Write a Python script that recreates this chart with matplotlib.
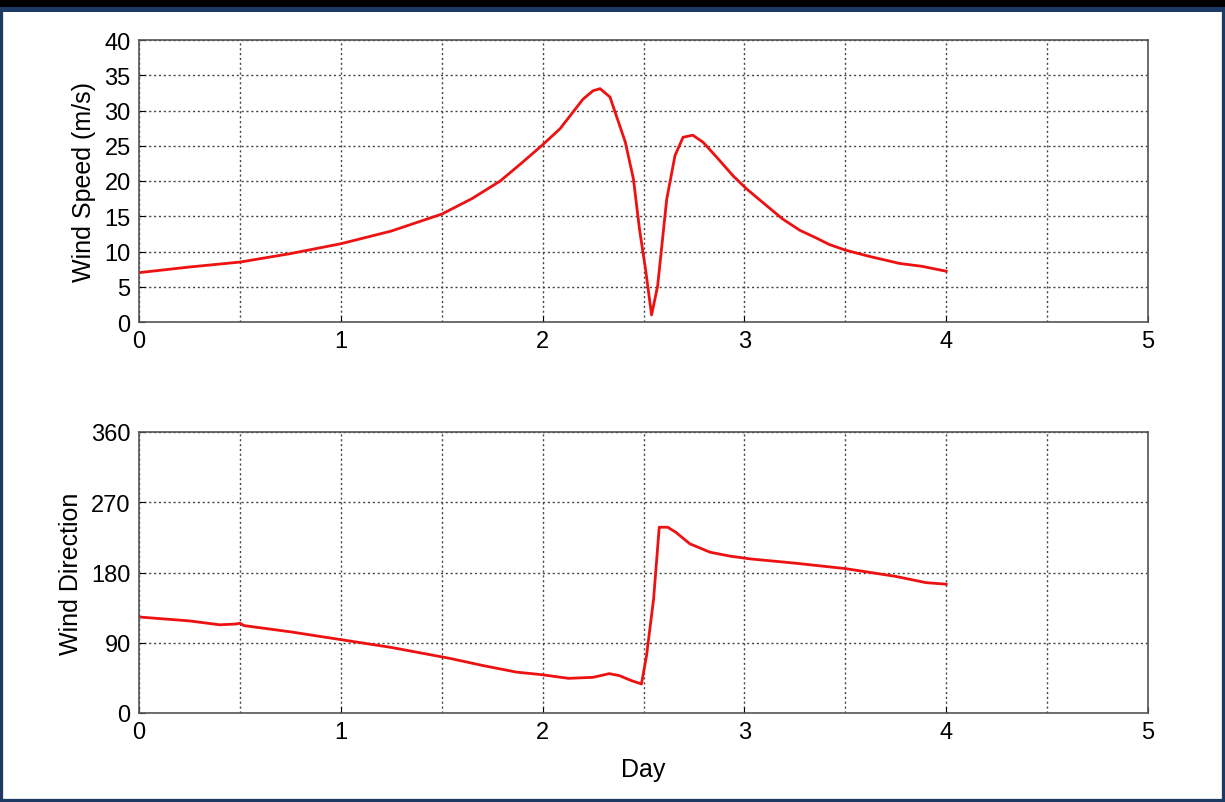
import matplotlib.pyplot as plt
from matplotlib.patches import Rectangle

plt.rcParams['font.family'] = ['Liberation Sans', 'DejaVu Sans']

# wind speed track (day, m/s)
speed_day = [0.0, 0.25, 0.5, 0.75, 1.0, 1.25, 1.5, 1.65, 1.79, 1.89, 1.995, 2.086,
             2.2, 2.25, 2.285, 2.334, 2.41, 2.45, 2.48, 2.51, 2.54, 2.57, 2.615,
             2.656, 2.696, 2.744, 2.795, 2.862, 2.945, 3.01, 3.11, 3.19, 3.275,
             3.35, 3.42, 3.5, 3.62, 3.77, 3.88, 4.0]
speed = [7.0, 7.8, 8.5, 9.7, 11.1, 12.9, 15.3, 17.5, 20.0, 22.4, 25.0, 27.4,
         31.6, 32.8, 33.1, 31.9, 25.5, 20.3, 13.2, 7.5, 1.0, 5.1, 17.4,
         23.6, 26.2, 26.5, 25.5, 23.4, 20.7, 18.9, 16.5, 14.6, 13.0,
         12.0, 11.0, 10.2, 9.3, 8.3, 7.9, 7.2]

# wind direction track (day, degrees)
dir_day = [0.0, 0.25, 0.4, 0.48, 0.5, 0.52, 0.75, 1.0, 1.25, 1.54, 1.706, 1.87,
           1.995, 2.128, 2.25, 2.33, 2.38, 2.44, 2.49, 2.515, 2.55, 2.578, 2.62,
           2.66, 2.73, 2.83, 2.93, 3.03, 3.25, 3.5, 3.75, 3.9, 4.0]
direction = [123, 118, 113, 114, 115, 112, 104, 94, 84, 70, 60.7, 52.4,
             49.1, 44.4, 45.7, 50.4, 47.9, 41.5, 37.2, 73.5, 146, 238, 238,
             231.6, 216.7, 206, 200.9, 197.4, 192, 185, 175, 167, 165]

fig = plt.figure(figsize=(12.25, 8.03), dpi=100)

# dark frame around the picture
fig.patches.append(Rectangle((0, 0), 1, 1, transform=fig.transFigure,
                             facecolor='none', edgecolor='#1c3a63', linewidth=4.5))
fig.patches.append(Rectangle((0, 1 - 13 / 803), 1, 5 / 803, transform=fig.transFigure,
                             facecolor='#1c3a63', edgecolor='none'))
fig.patches.append(Rectangle((0, 1 - 8 / 803), 1, 8 / 803, transform=fig.transFigure,
                             facecolor='black', edgecolor='none'))

W, H = 1225, 803
ax1 = fig.add_axes([139 / W, 1 - 323 / H, (1148 - 139) / W, (323 - 41) / H])
ax2 = fig.add_axes([139 / W, 1 - 714 / H, (1148 - 139) / W, (714 - 433) / H])

ax1.plot(speed_day, speed, color='#ee1111', linewidth=2)
ax1.set_ylim(0, 40)
ax1.set_yticks(range(0, 41, 5))
ax1.set_ylabel('Wind Speed (m/s)', fontsize=18, labelpad=6)

ax2.plot(dir_day, direction, color='#ee1111', linewidth=2)
ax2.set_ylim(0, 360)
ax2.set_yticks([0, 90, 180, 270, 360])
ax2.set_ylabel('Wind Direction', fontsize=18, labelpad=6)
ax2.set_xlabel('Day', fontsize=18, labelpad=10)

for ax in (ax1, ax2):
    ax.set_xlim(0, 5)
    ax.set_xticks([0, 1, 2, 3, 4, 5])
    ax.set_xticks([0.5, 1.5, 2.5, 3.5, 4.5], minor=True)
    ax.grid(True, which='both', color='#444444', linestyle=(0, (1.5, 2)), linewidth=1)
    ax.tick_params(direction='in', labelsize=17, length=4, pad=6, which='both')
    ax.tick_params(which='minor', length=0)
    for s in ax.spines.values():
        s.set_color('#555555')
        s.set_linewidth(1.2)

fig.savefig('out.png', dpi=100)
